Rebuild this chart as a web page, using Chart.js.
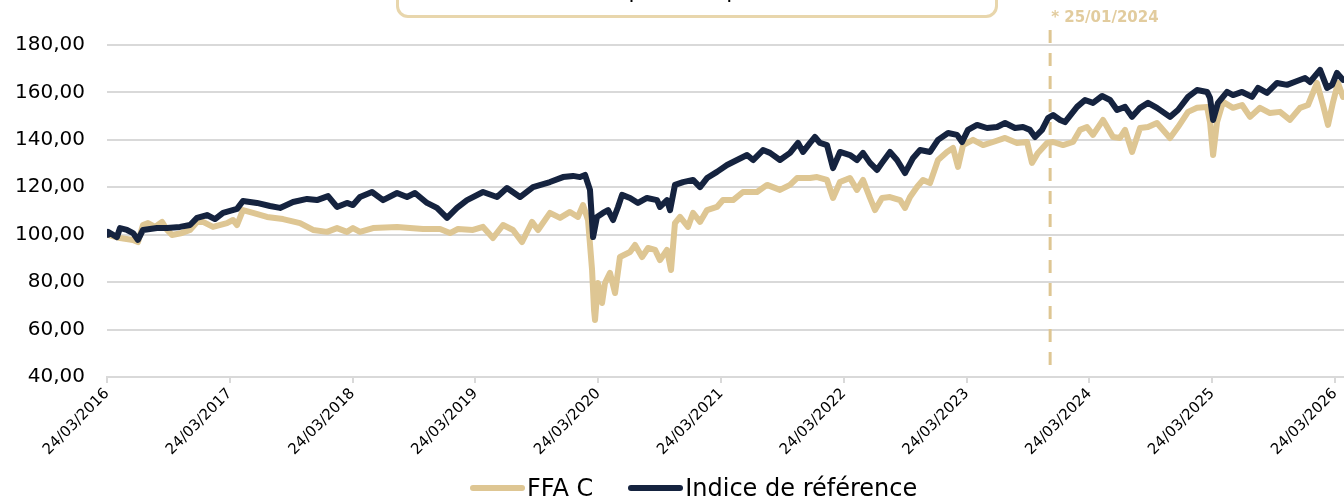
<!DOCTYPE html>
<html>
<head>
<meta charset="utf-8">
<script src="https://cdn.jsdelivr.net/npm/chart.js@4.4.1/dist/chart.umd.min.js"></script>
<style>
    html, body { margin: 0; padding: 0; background: #fff; }
    #page { position: relative; width: 1344px; height: 500px; overflow: hidden; font-family: "DejaVu Sans", sans-serif; }
    #chart-wrap { position: absolute; left: 0; top: 0; width: 1344px; height: 500px; }
    #title-box { position: absolute; left: 396px; top: -38px; width: 596px; height: 50px; border: 3px solid #E8D6AC; border-radius: 12px; }
    #title-text { position: absolute; left: 396px; width: 602px; top: -22px; text-align: center; font-size: 22px; line-height: 26px; color: #000; }
    #legend { position: absolute; left: 470px; top: 474px; display: flex; align-items: center; font-size: 24px; line-height: 28px; color: #000; white-space: nowrap; }
    #legend .item { display: flex; align-items: center; margin-right: 35px; }
    #legend .swatch { width: 55px; height: 6px; border-radius: 3px; margin-right: 2px; }
</style>
</head>
<body>
<div id="page">
    <div id="chart-wrap"><canvas id="perfChart"></canvas></div>
    <div id="title-box"></div>
    <div id="title-text">Évolution comparée depuis le lancement</div>
    <div id="legend"></div>
</div>
<script>
// années écoulées depuis le 24/03/2016
const idxT = [0, 0.008, 0.081, 0.106, 0.163, 0.212, 0.252, 0.293, 0.407, 0.489, 0.594, 0.676, 0.733, 0.814, 0.879, 0.945, 1.059, 1.107, 1.221, 1.327, 1.409, 1.515, 1.629, 1.710, 1.800, 1.873, 1.954, 2.003, 2.060, 2.158, 2.248, 2.362, 2.443, 2.508, 2.606, 2.687, 2.769, 2.850, 2.932, 3.062, 3.176, 3.257, 3.363, 3.469, 3.607, 3.713, 3.795, 3.852, 3.893, 3.933, 3.958, 3.990, 4.039, 4.080, 4.121, 4.161, 4.194, 4.259, 4.324, 4.397, 4.479, 4.503, 4.560, 4.585, 4.625, 4.691, 4.772, 4.829, 4.886, 4.967, 5.049, 5.130, 5.212, 5.261, 5.342, 5.399, 5.480, 5.562, 5.627, 5.668, 5.725, 5.765, 5.806, 5.863, 5.912, 5.969, 6.050, 6.107, 6.156, 6.213, 6.270, 6.311, 6.376, 6.433, 6.498, 6.564, 6.621, 6.702, 6.767, 6.849, 6.922, 6.963, 7.011, 7.085, 7.166, 7.248, 7.313, 7.394, 7.459, 7.516, 7.557, 7.614, 7.663, 7.704, 7.761, 7.801, 7.899, 7.964, 8.029, 8.103, 8.168, 8.225, 8.290, 8.347, 8.412, 8.477, 8.550, 8.656, 8.721, 8.803, 8.876, 8.958, 8.982, 9.007, 9.047, 9.121, 9.169, 9.243, 9.324, 9.373, 9.446, 9.528, 9.609, 9.691, 9.756, 9.796, 9.878, 9.935, 9.976, 10.016, 10.065];
const idxV = [100, 101.2, 99.0, 102.8, 102.0, 100.7, 97.8, 102.0, 102.8, 102.8, 103.3, 104.1, 107.1, 108.3, 106.6, 109.2, 110.9, 114.2, 113.4, 112.1, 111.3, 113.8, 115.1, 114.6, 116.3, 111.7, 113.4, 112.5, 115.9, 118.0, 114.6, 117.6, 115.9, 117.6, 113.4, 111.3, 107.1, 111.3, 114.6, 118.0, 115.9, 119.7, 115.9, 120.1, 122.2, 124.3, 124.8, 124.3, 125.2, 118.9, 99.0, 107.5, 109.2, 110.4, 106.2, 111.7, 116.8, 115.5, 113.4, 115.5, 114.6, 111.7, 114.6, 110.4, 121.0, 122.2, 123.1, 120.1, 123.9, 126.5, 129.4, 131.5, 133.6, 131.5, 135.7, 134.5, 131.5, 134.5, 138.7, 134.9, 138.7, 141.2, 138.7, 137.8, 128.1, 134.9, 133.6, 131.5, 134.5, 130.3, 127.3, 130.3, 134.9, 131.5, 126.0, 132.4, 135.7, 134.9, 140.0, 142.9, 142.1, 139.1, 144.2, 146.3, 145.0, 145.4, 147.1, 145.0, 145.4, 144.2, 141.2, 144.2, 149.2, 150.5, 148.4, 147.5, 153.9, 156.8, 155.6, 158.5, 156.8, 152.6, 153.9, 149.7, 153.5, 155.6, 153.5, 149.7, 152.6, 158.1, 161.0, 160.2, 157.7, 148.4, 155.6, 160.2, 158.9, 160.2, 158.1, 161.9, 159.8, 164.0, 163.2, 164.8, 166.1, 164.4, 169.5, 161.9, 163.2, 168.2, 165.3];

const ffaT = [0, 0.008, 0.106, 0.212, 0.252, 0.293, 0.334, 0.391, 0.448, 0.489, 0.529, 0.611, 0.676, 0.733, 0.782, 0.863, 0.977, 1.026, 1.059, 1.107, 1.189, 1.303, 1.433, 1.572, 1.678, 1.792, 1.873, 1.954, 2.003, 2.060, 2.166, 2.362, 2.573, 2.712, 2.793, 2.858, 2.980, 3.062, 3.143, 3.225, 3.306, 3.379, 3.461, 3.510, 3.607, 3.689, 3.770, 3.835, 3.876, 3.917, 3.950, 3.966, 3.974, 3.998, 4.031, 4.055, 4.096, 4.137, 4.177, 4.259, 4.300, 4.357, 4.406, 4.463, 4.503, 4.560, 4.593, 4.625, 4.666, 4.731, 4.772, 4.829, 4.886, 4.967, 5.016, 5.098, 5.179, 5.293, 5.375, 5.480, 5.562, 5.619, 5.725, 5.782, 5.863, 5.912, 5.969, 6.050, 6.107, 6.156, 6.213, 6.254, 6.311, 6.376, 6.458, 6.498, 6.539, 6.596, 6.645, 6.702, 6.767, 6.840, 6.889, 6.930, 6.971, 7.052, 7.134, 7.215, 7.313, 7.410, 7.492, 7.532, 7.581, 7.655, 7.704, 7.785, 7.866, 7.923, 7.980, 8.029, 8.111, 8.192, 8.249, 8.290, 8.347, 8.412, 8.477, 8.550, 8.656, 8.721, 8.803, 8.876, 8.958, 8.982, 9.007, 9.039, 9.088, 9.169, 9.243, 9.308, 9.389, 9.470, 9.552, 9.633, 9.715, 9.780, 9.853, 9.902, 9.943, 9.984, 10.024, 10.065];
const ffaV = [100, 99.9, 98.6, 97.8, 96.9, 104.1, 104.9, 103.3, 105.4, 102.0, 99.9, 100.7, 102.0, 105.4, 105.4, 103.3, 104.9, 106.2, 104.1, 110.4, 109.2, 107.5, 106.6, 104.9, 102.0, 101.2, 102.8, 101.2, 102.8, 101.2, 102.8, 103.3, 102.4, 102.4, 100.7, 102.4, 102.0, 103.3, 98.6, 104.1, 102.0, 96.9, 105.4, 102.0, 109.2, 107.1, 109.6, 107.5, 112.5, 106.2, 85.1, 68.3, 64.0, 79.6, 71.2, 79.6, 83.9, 75.4, 90.6, 92.7, 95.7, 90.6, 94.4, 93.6, 89.3, 93.6, 85.1, 104.9, 107.5, 103.3, 109.2, 105.4, 110.4, 111.7, 114.6, 114.6, 118.0, 118.0, 121.0, 118.9, 121.0, 123.9, 123.9, 124.3, 123.1, 115.5, 122.2, 123.9, 118.9, 123.1, 115.5, 110.4, 115.5, 115.9, 114.6, 111.3, 115.9, 120.1, 123.1, 121.8, 131.5, 134.9, 136.6, 128.6, 137.8, 140.0, 137.8, 139.1, 140.8, 138.7, 139.1, 130.3, 134.5, 138.7, 139.1, 137.8, 139.1, 144.2, 145.4, 142.1, 148.4, 141.2, 140.8, 144.2, 134.9, 145.0, 145.4, 147.1, 140.8, 145.4, 151.8, 153.5, 153.9, 147.5, 133.6, 147.5, 156.0, 153.5, 154.7, 149.7, 153.5, 151.3, 151.8, 148.4, 153.5, 154.7, 164.0, 154.7, 146.3, 156.0, 164.0, 158.1];

const seriesNames = ['Indice de référence', 'FFA C'];
const startYear = 2016;
const yTicks = [40, 60, 80, 100, 120, 140, 160, 180];
const markerT = 7.68;          // ligne pointillée
const markerLabel = '* 25/01/2024';

const NAVY = '#15233F';
const TAN = '#DEC693';
const GRID = '#D9D9D9';

function toPoints(ts, vs) {
    return ts.map((t, i) => ({ x: t, y: vs[i] }));
}

// ligne verticale pointillée + libellé
const markerPlugin = {
    id: 'marker',
    beforeDatasetsDraw(chart) {
        const ctx = chart.ctx;
        const x = chart.scales.x.getPixelForValue(markerT);
        const area = chart.chartArea;
        ctx.save();
        ctx.strokeStyle = TAN;
        ctx.lineWidth = 3;
        ctx.setLineDash([13, 10]);
        ctx.beginPath();
        ctx.moveTo(x, area.top - 15);
        ctx.lineTo(x, area.bottom - 2);
        ctx.stroke();
        ctx.setLineDash([]);
        ctx.fillStyle = '#E2CC9E';
        ctx.font = 'bold 15px "DejaVu Sans"';
        ctx.textBaseline = 'alphabetic';
        ctx.fillText(markerLabel, x + 1, 22);
        ctx.restore();
    }
};

const chart = new Chart(document.getElementById('perfChart'), {
    type: 'line',
    data: {
        datasets: [{
            label: seriesNames[0],
            data: toPoints(idxT, idxV),
            borderColor: NAVY,
            backgroundColor: NAVY,
            borderWidth: 6,
            pointRadius: 0,
            tension: 0,
            borderJoinStyle: 'round',
            borderCapStyle: 'round'
        }, {
            label: seriesNames[1],
            data: toPoints(ffaT, ffaV),
            borderColor: TAN,
            backgroundColor: TAN,
            borderWidth: 6,
            pointRadius: 0,
            tension: 0,
            borderJoinStyle: 'round',
            borderCapStyle: 'round'
        }]
    },
    options: {
        responsive: true,
        maintainAspectRatio: false,
        animation: false,
        layout: { padding: { top: 45, right: 0, bottom: 0, left: 0 } },
        plugins: {
            legend: { display: false },
            tooltip: { enabled: false }
        },
        scales: {
            x: {
                type: 'linear',
                min: 0,
                max: 10.073,
                afterFit(scale) { scale.height = 123; scale.paddingRight = 0; scale.paddingLeft = 0; },
                grid: { drawOnChartArea: false, drawTicks: true, tickLength: 6, color: GRID, lineWidth: 2 },
                border: { display: true, color: GRID, width: 2 },
                ticks: {
                    stepSize: 1,
                    includeBounds: false,
                    autoSkip: false,
                    maxRotation: 45,
                    minRotation: 45,
                    padding: 2,
                    color: '#000',
                    font: { family: 'DejaVu Sans', size: 15 },
                    callback: v => Number.isInteger(v) ? '24/03/' + (startYear + v) : ''
                }
            },
            y: {
                min: yTicks[0],
                max: yTicks[yTicks.length - 1],
                afterFit(scale) { scale.width = 107; },
                grid: { color: GRID, lineWidth: 2, drawTicks: false },
                border: { display: false },
                ticks: {
                    stepSize: 20,
                    padding: 22,
                    color: '#000',
                    font: { family: 'DejaVu Sans', size: 20 },
                    callback: v => v.toFixed(2).replace('.', ',')
                }
            }
        }
    },
    plugins: [markerPlugin]
});

// légende : FFA C d'abord, puis l'indice
const legend = document.getElementById('legend');
chart.data.datasets.slice().reverse().forEach(ds => {
    const item = document.createElement('div');
    item.className = 'item';
    item.innerHTML = `<span class="swatch" style="background:${ds.borderColor}"></span><span>${ds.label}</span>`;
    legend.appendChild(item);
});
</script>
</body>
</html>
